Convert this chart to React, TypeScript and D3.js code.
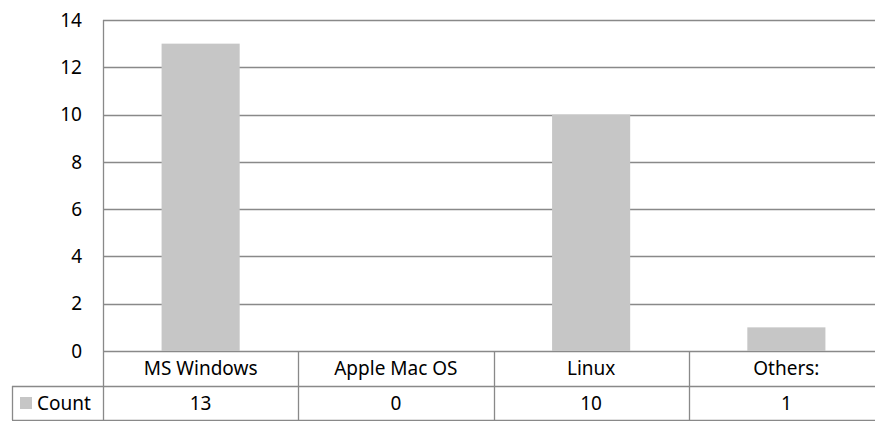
import React, { useEffect, useRef } from "react";
import * as d3 from "d3";

const categories = ["MS Windows", "Apple Mac OS", "Linux", "Others:"];
const counts = [13, 0, 10, 1];
const yTicks = [0, 2, 4, 6, 8, 10, 12, 14];
const seriesName = "Count";

const W = 875;
const H = 421;

const App = () => {
  const ref = useRef<SVGSVGElement>(null);

  useEffect(() => {
    const svg = d3.select(ref.current);
    svg.selectAll("*").remove();

    const left = 103;
    const right = 884;
    const top = 20;
    const bottom = 351;
    const row1 = 386;
    const row2 = 420;
    const tableLeft = 12;
    const grid = "#898989";
    const font = "'Noto Sans', sans-serif";
    const fs = 19;

    const x = d3
      .scaleBand()
      .domain(categories)
      .range([left, right])
      .paddingInner(0.6)
      .paddingOuter(0.3);
    const step = x.step();

    const y = d3.scaleLinear().domain([0, 14]).range([bottom, top]);

    // gridlines
    svg
      .append("g")
      .selectAll("line")
      .data(yTicks)
      .enter()
      .append("line")
      .attr("x1", left)
      .attr("x2", right)
      .attr("y1", (d) => Math.round(y(d)) + 0.5)
      .attr("y2", (d) => Math.round(y(d)) + 0.5)
      .attr("stroke", grid)
      .attr("stroke-width", 1.3);

    // tick labels
    svg
      .append("g")
      .selectAll("text")
      .data(yTicks)
      .enter()
      .append("text")
      .attr("x", 82)
      .attr("y", (d) => y(d))
      .attr("dy", "0.35em")
      .attr("text-anchor", "end")
      .attr("font-family", font)
      .attr("font-size", fs)
      .attr("fill", "#000")
      .text((d) => d);

    // bars
    svg
      .append("g")
      .selectAll("rect")
      .data(counts)
      .enter()
      .append("rect")
      .attr("x", (d, i) => x(categories[i]) as number)
      .attr("y", (d) => y(d))
      .attr("width", x.bandwidth())
      .attr("height", (d) => bottom - y(d))
      .attr("fill", "#c6c6c6");

    // data table
    const t = svg.append("g").attr("stroke", grid).attr("stroke-width", 1.3);
    t.append("line").attr("x1", left + 0.5).attr("x2", left + 0.5).attr("y1", top).attr("y2", row2);
    categories.forEach((c) => {
      const bx = Math.round((x(c) as number) - step * 0.3 + step) + 0.5;
      t.append("line").attr("x1", bx).attr("x2", bx).attr("y1", bottom).attr("y2", row2);
    });
    t.append("line").attr("x1", tableLeft).attr("x2", right).attr("y1", row1 + 0.5).attr("y2", row1 + 0.5);
    t.append("line").attr("x1", tableLeft).attr("x2", right).attr("y1", row2 + 0.5).attr("y2", row2 + 0.5);
    t.append("line").attr("x1", tableLeft + 0.5).attr("x2", tableLeft + 0.5).attr("y1", row1).attr("y2", row2);

    const txt = svg
      .append("g")
      .attr("font-family", font)
      .attr("font-size", fs)
      .attr("fill", "#000")
      .attr("text-anchor", "middle");
    categories.forEach((c, i) => {
      const cx = (x(c) as number) + x.bandwidth() / 2;
      txt.append("text").attr("x", cx).attr("y", (bottom + row1) / 2).attr("dy", "0.35em").text(c);
      txt.append("text").attr("x", cx).attr("y", (row1 + row2) / 2).attr("dy", "0.35em").text(counts[i]);
    });

    // legend key
    svg.append("rect").attr("x", 20).attr("y", 397).attr("width", 12).attr("height", 12).attr("fill", "#c6c6c6");
    svg
      .append("text")
      .attr("x", 37)
      .attr("y", (row1 + row2) / 2)
      .attr("dy", "0.35em")
      .attr("font-family", font)
      .attr("font-size", fs)
      .attr("fill", "#000")
      .text(seriesName);
  }, []);

  return (
    <svg
      ref={ref}
      width={W}
      height={H}
      style={{ position: "absolute", left: 0, top: 0, background: "#fff" }}
    />
  );
};

export default App;
